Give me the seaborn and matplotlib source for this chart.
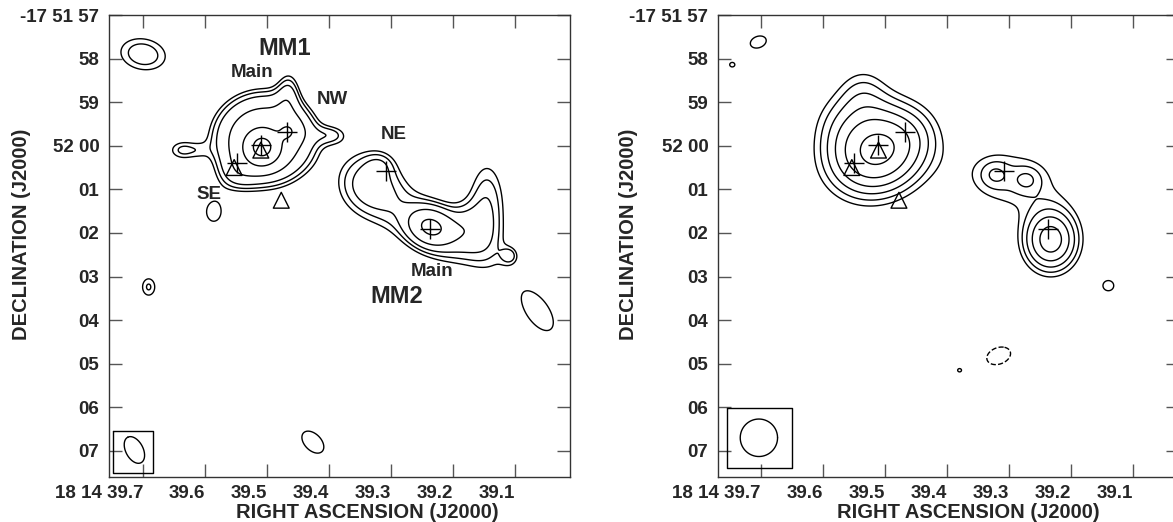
import numpy as np
import matplotlib
matplotlib.use("Agg")
import matplotlib.pyplot as plt
import seaborn as sns

# ---------------- data ----------------
AS_PER_S = 15.0 * np.cos(np.deg2rad(17.866))   # arcsec per second of RA

ra_ticks = [39.7, 39.6, 39.5, 39.4, 39.3, 39.2, 39.1]
ra_labels = ["18 14 39.7", "39.6", "39.5", "39.4", "39.3", "39.2", "39.1"]
dec_ticks = [57, 58, 59, 60, 61, 62, 63, 64, 65, 66, 67]
dec_labels = ["-17 51 57", "58", "59", "52 00", "01", "02", "03", "04", "05", "06", "07"]

# left panel emission components
# (RA s, Dec arcsec south of -17 51 00, amplitude, sigma_major", sigma_minor", pa deg, profile power)
left_ra   = [39.505, 39.508, 39.465, 39.635, 39.608, 39.395, 39.467, 39.555, 39.450,
             39.335, 39.225, 39.145, 39.180, 39.108, 39.236, 39.318,
             39.700, 39.691, 39.586, 39.063, 39.426]
left_dec  = [59.85, 60.03, 58.70, 60.10, 60.12, 59.75, 59.68, 60.75, 59.55,
             60.88, 61.95, 61.35, 61.85, 62.52, 61.86, 60.42,
             57.90, 63.24, 61.52, 63.80, 66.80]
left_amp  = [3.0, 6.7, 1.3, 1.4, 0.25, 1.2, 1.6, 0.8, 0.5,
             2.0, 2.0, 1.6, 0.6, 1.0, 3.2, 0.6,
             1.6, 1.35, 1.28, 1.28, 1.28]
left_sx   = [0.88, 0.26, 0.20, 0.30, 0.15, 0.28, 0.14, 0.35, 0.30,
             0.60, 0.90, 0.35, 0.30, 0.15, 0.33, 0.25,
             0.53, 0.18, 0.23, 0.72, 0.43]
left_sy   = [0.80, 0.26, 0.35, 0.20, 0.15, 0.18, 0.14, 0.30, 0.30,
             0.55, 0.50, 0.85, 0.35, 0.15, 0.26, 0.22,
             0.36, 0.24, 0.30, 0.36, 0.27]
left_pa   = [0, 0, 0, 0, 0, 0, 0, 0, 0,
             -40, -25, 0, 0, 0, -20, 0,
             -10, 0, 0, -55, -45]
left_pw   = [2, 1, 1, 1, 1, 1, 1, 1, 1,
             1, 1, 1, 1, 1, 1, 1,
             1, 1, 1, 1, 1]
left_levels = [1.0, 1.3, 1.7, 2.6, 4.5, 8.0]

# right panel emission components
right_ra  = [39.512, 39.535, 39.575, 39.450,
             39.296, 39.322, 39.270, 39.232,
             39.139, 39.316, 39.379, 39.704, 39.746]
right_dec = [60.10, 58.80, 59.40, 59.75,
             60.77, 60.66, 60.78, 62.16,
             63.21, 64.82, 65.15, 57.62, 58.14]
right_amp = [7.5, 1.3, 0.8, 0.4,
             1.5, 1.1, 1.1, 5.5,
             1.3, -1.3, 1.3, 1.3, 1.3]
right_sx  = [0.72, 0.40, 0.45, 0.40,
             0.90, 0.22, 0.22, 0.40,
             0.17, 0.39, 0.07, 0.26, 0.08]
right_sy  = [0.62, 0.45, 0.50, 0.40,
             0.55, 0.20, 0.20, 0.46,
             0.16, 0.26, 0.06, 0.18, 0.07]
right_pa  = [25, 0, 0, 0,
             -10, 0, 0, 0,
             0, 20, 0, 20, 0]
right_pw  = [1] * 13
right_levels = [1.0, 1.5, 2.2, 3.2, 4.6, 6.6]
right_neg_levels = [-1.0]

# markers
cross_ra  = [39.510, 39.468, 39.549, 39.308, 39.237]
cross_dec = [59.99, 59.69, 60.39, 60.58, 61.90]
tri_ra    = [39.510, 39.553, 39.477]
tri_dec   = [60.10, 60.50, 61.25]

# annotations (left panel)
ann_text = ["MM1", "Main", "NW", "NE", "SE", "Main", "MM2"]
ann_ra   = [39.471, 39.524, 39.394, 39.295, 39.594, 39.233, 39.291]
ann_dec  = [57.77, 58.33, 58.94, 59.74, 61.12, 62.89, 63.46]
ann_size = [17, 13.5, 13.5, 13.5, 13.5, 13.5, 17]

# beams: centre RA, Dec, major, minor (arcsec), pa (deg), box RA0, RA1, Dec0, Dec1
beam_left  = [39.714, 66.98, 0.33, 0.20, 118, 39.748, 39.684, 66.55, 67.51]
beam_right = [39.703, 66.70, 0.43, 0.43, 0, 39.754, 39.649, 66.01, 67.40]

xlim_left = (39.755, 39.011)
xlim_right = (39.769, 39.025)
ylim = (67.6, 57.0)

# ---------------- style ----------------
sns.set_style("ticks")
plt.rcParams["font.family"] = ["Liberation Sans", "DejaVu Sans"]
plt.rcParams["font.weight"] = "bold"
plt.rcParams["axes.labelweight"] = "bold"

fig = plt.figure(figsize=(11.73, 5.22), dpi=100)
ax_l = fig.add_axes([109 / 1173, 1 - 477 / 522, 461 / 1173, 462 / 522])
ax_r = fig.add_axes([718 / 1173, 1 - 477 / 522, 461 / 1173, 462 / 522])

RA = np.linspace(38.99, 39.79, 1300)
DEC = np.linspace(56.9, 67.8, 1000)
RR, DD = np.meshgrid(RA, DEC)


def field(ra, dec, amp, sx, sy, pa, pw):
    F = np.zeros_like(RR)
    for r0, d0, a, a_sx, a_sy, p, w in zip(ra, dec, amp, sx, sy, pa, pw):
        X = (r0 - RR) * AS_PER_S
        Y = d0 - DD
        t = np.deg2rad(p)
        u = X * np.cos(t) + Y * np.sin(t)
        v = -X * np.sin(t) + Y * np.cos(t)
        q = 0.5 * ((u / a_sx) ** 2 + (v / a_sy) ** 2)
        F += a * np.exp(-q ** w)
    return F


def beam(ax, b):
    r0, d0, a, bmin, p, x0, x1, y0, y1 = b
    t = np.linspace(0, 2 * np.pi, 200)
    th = np.deg2rad(p)
    X = a * np.cos(t) * np.cos(th) - bmin * np.sin(t) * np.sin(th)
    Y = a * np.cos(t) * np.sin(th) + bmin * np.sin(t) * np.cos(th)
    ax.plot(r0 - X / AS_PER_S, d0 - Y, color="black", lw=1.0)
    ax.plot([x0, x1, x1, x0, x0], [y0, y0, y1, y1, y0], color="black", lw=1.0)


def style(ax, xlim, xlab_x, ylab_x):
    ax.set_xlim(*xlim)
    ax.set_ylim(*ylim)
    ax.set_xticks(ra_ticks)
    ax.set_xticklabels(ra_labels)
    ax.set_yticks(dec_ticks)
    ax.set_yticklabels(dec_labels)
    ax.tick_params(direction="in", length=9.5, width=1.0, color="#555555",
                   top=True, right=True, labelsize=13.5)
    ax.tick_params(axis="x", pad=5.5)
    ax.tick_params(axis="y", pad=7)
    for lbl in ax.get_xticklabels():
        lbl.set_horizontalalignment("right")
    for sp in ax.spines.values():
        sp.set_color("#333333")
        sp.set_linewidth(1.0)
        sp.set_visible(True)
    ax.set_xlabel("RIGHT ASCENSION (J2000)", fontsize=14.5, fontweight="bold")
    ax.set_ylabel("DECLINATION (J2000)", fontsize=14.5, fontweight="bold")
    ax.xaxis.set_label_coords(xlab_x, -0.077)
    ax.xaxis.label.set_verticalalignment("center")
    ax.yaxis.set_label_coords(ylab_x, 0.525)
    ax.yaxis.label.set_verticalalignment("center")


# left panel
FL = field(left_ra, left_dec, left_amp, left_sx, left_sy, left_pa, left_pw)
ax_l.contour(RR, DD, FL, levels=left_levels, colors="black", linewidths=1.0)
beam(ax_l, beam_left)
sns.scatterplot(x=cross_ra, y=cross_dec, marker="+", s=210, color="black",
                linewidth=1.0, ax=ax_l, legend=False)
sns.scatterplot(x=tri_ra, y=tri_dec, marker="^", s=130, facecolors="none",
                edgecolor="black", linewidth=1.0, ax=ax_l, legend=False)
for t, r, d, fs in zip(ann_text, ann_ra, ann_dec, ann_size):
    ax_l.text(r, d, t, ha="center", va="center", fontsize=fs, fontweight="bold")
style(ax_l, xlim_left, 0.56, -0.19)

# right panel
FR = field(right_ra, right_dec, right_amp, right_sx, right_sy, right_pa, right_pw)
ax_r.contour(RR, DD, FR, levels=right_levels, colors="black", linewidths=1.0)
ax_r.contour(RR, DD, FR, levels=right_neg_levels, colors="black", linewidths=1.0,
             linestyles="dashed")
beam(ax_r, beam_right)
sns.scatterplot(x=cross_ra, y=cross_dec, marker="+", s=210, color="black",
                linewidth=1.0, ax=ax_r, legend=False)
sns.scatterplot(x=tri_ra, y=tri_dec, marker="^", s=130, facecolors="none",
                edgecolor="black", linewidth=1.0, ax=ax_r, legend=False)
style(ax_r, xlim_right, 0.542, -0.195)

fig.savefig("out.png", dpi=100)
